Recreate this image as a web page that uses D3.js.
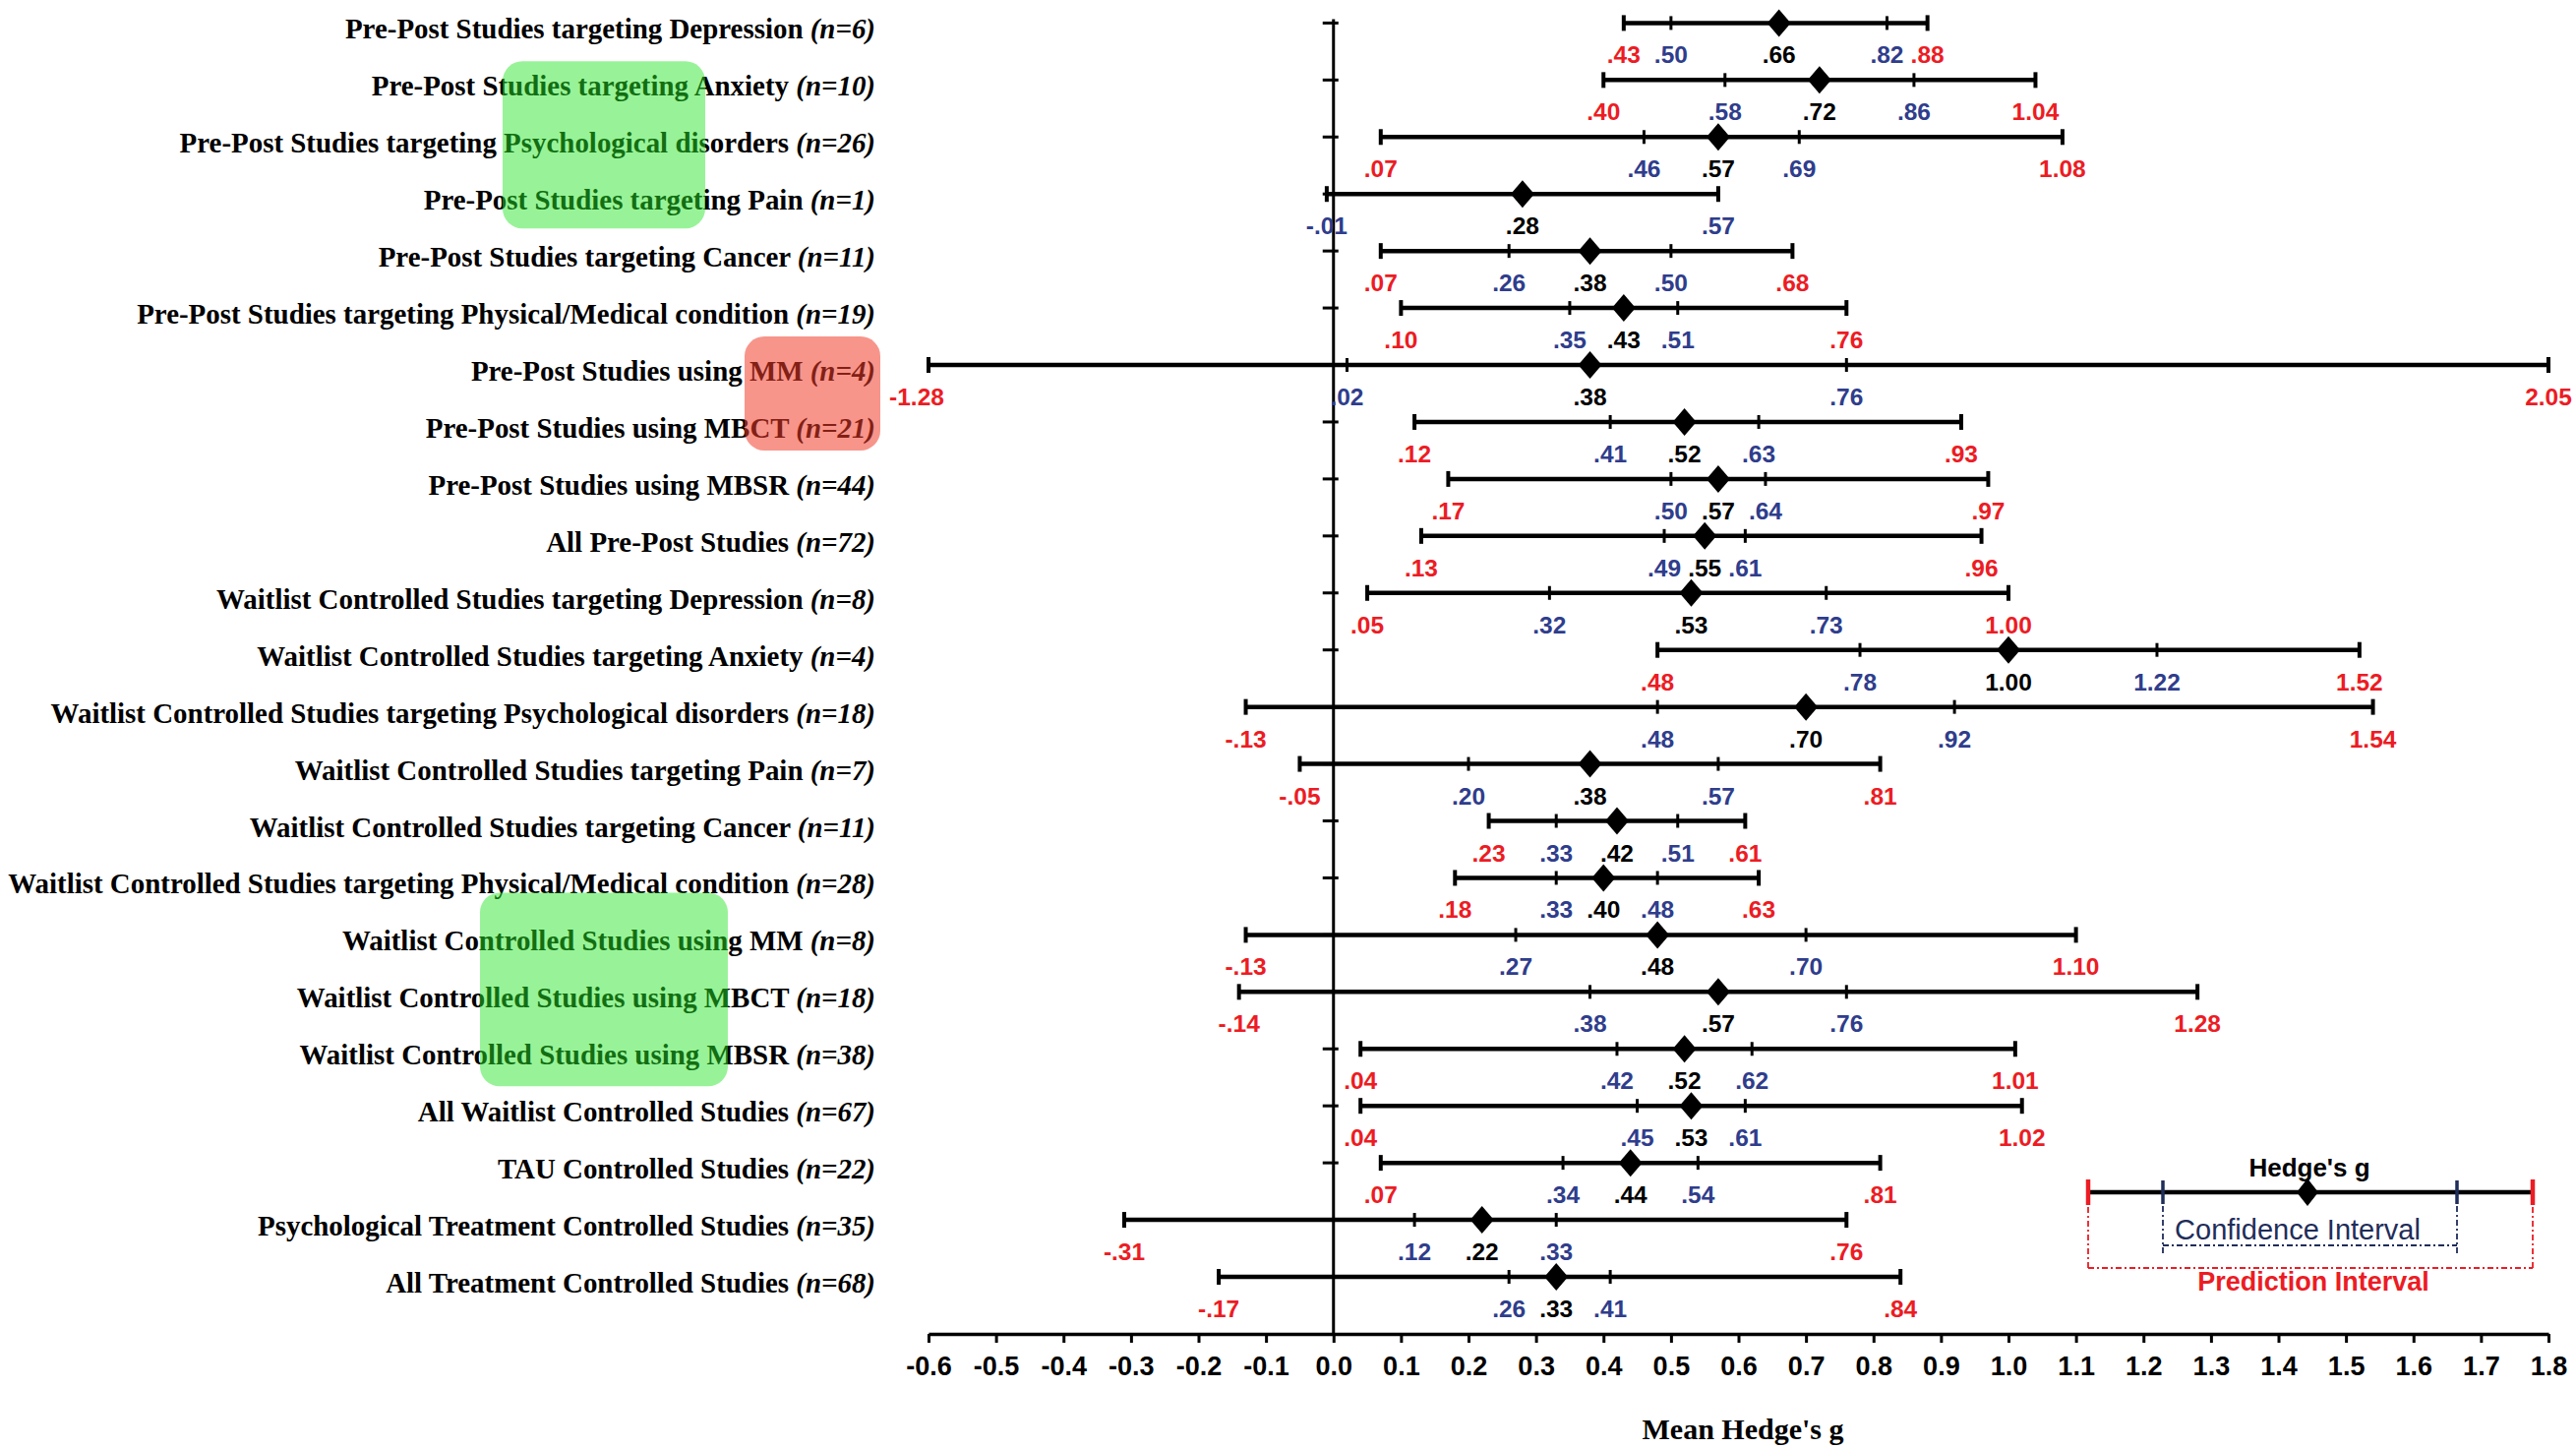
<!DOCTYPE html>
<html>
<head>
<meta charset="utf-8">
<script src="https://cdn.jsdelivr.net/npm/d3@7/dist/d3.min.js"></script>
<style>
  html, body { margin: 0; padding: 0; background: #fff; }
  svg { display: block; }
</style>
</head>
<body>
<div id="chart"></div>
<script>
// Study groups, top to bottom
const studyGroups = [
  "Pre-Post Studies targeting Depression",
  "Pre-Post Studies targeting Anxiety",
  "Pre-Post Studies targeting Psychological disorders",
  "Pre-Post Studies targeting Pain",
  "Pre-Post Studies targeting Cancer",
  "Pre-Post Studies targeting Physical/Medical condition",
  "Pre-Post Studies using MM",
  "Pre-Post Studies using MBCT",
  "Pre-Post Studies using MBSR",
  "All Pre-Post Studies",
  "Waitlist Controlled Studies targeting Depression",
  "Waitlist Controlled Studies targeting Anxiety ",
  "Waitlist Controlled Studies targeting Psychological disorders",
  "Waitlist Controlled Studies targeting Pain",
  "Waitlist Controlled Studies targeting Cancer",
  "Waitlist Controlled Studies targeting Physical/Medical condition",
  "Waitlist Controlled Studies using MM",
  "Waitlist Controlled Studies using MBCT",
  "Waitlist Controlled Studies using MBSR",
  "All Waitlist Controlled Studies",
  "TAU Controlled Studies",
  "Psychological Treatment Controlled Studies",
  "All Treatment Controlled Studies"
];
const studyCounts = [6, 10, 26, 1, 11, 19, 4, 21, 44, 72, 8, 4, 18, 7, 11, 28, 8, 18, 38, 67, 22, 35, 68];

// Mean Hedge's g with confidence and prediction intervals
const meanG  = [0.66, 0.72, 0.57, 0.28, 0.38, 0.43, 0.38, 0.52, 0.57, 0.55, 0.53, 1.00, 0.70, 0.38, 0.42, 0.40, 0.48, 0.57, 0.52, 0.53, 0.44, 0.22, 0.33];
const ciLow  = [0.50, 0.58, 0.46, -0.01, 0.26, 0.35, 0.02, 0.41, 0.50, 0.49, 0.32, 0.78, 0.48, 0.20, 0.33, 0.33, 0.27, 0.38, 0.42, 0.45, 0.34, 0.12, 0.26];
const ciHigh = [0.82, 0.86, 0.69, 0.57, 0.50, 0.51, 0.76, 0.63, 0.64, 0.61, 0.73, 1.22, 0.92, 0.57, 0.51, 0.48, 0.70, 0.76, 0.62, 0.61, 0.54, 0.33, 0.41];
const piLow  = [0.43, 0.40, 0.07, null, 0.07, 0.10, -1.28, 0.12, 0.17, 0.13, 0.05, 0.48, -0.13, -0.05, 0.23, 0.18, -0.13, -0.14, 0.04, 0.04, 0.07, -0.31, -0.17];
const piHigh = [0.88, 1.04, 1.08, null, 0.68, 0.76, 2.05, 0.93, 0.97, 0.96, 1.00, 1.52, 1.54, 0.81, 0.61, 0.63, 1.10, 1.28, 1.01, 1.02, 0.81, 0.76, 0.84];

const xTicks = [-0.6, -0.5, -0.4, -0.3, -0.2, -0.1, 0.0, 0.1, 0.2, 0.3, 0.4, 0.5, 0.6, 0.7, 0.8, 0.9, 1.0, 1.1, 1.2, 1.3, 1.4, 1.5, 1.6, 1.7, 1.8];

const W = 2619, H = 1472;
const RED = "#ec1c24", BLUE = "#2f3d8c", NAVY = "#1f2d5a";

const rows = studyGroups.map((name, i) => ({
  name: name, n: studyCounts[i], g: meanG[i],
  ciLo: ciLow[i], ciHi: ciHigh[i], piLo: piLow[i], piHi: piHigh[i]
}));

const svg = d3.select("#chart").append("svg")
  .attr("width", W).attr("height", H);
svg.append("rect").attr("width", W).attr("height", H).attr("fill", "#fff");

const x = d3.scaleLinear().domain([-0.6, 1.8]).range([944, 2591]);
const y = d3.scalePoint().domain(d3.range(rows.length)).range([23.4, 1298]);
const axisY = 1356;
const clip = v => Math.max(-0.6, Math.min(1.8, v));
const fmt = v => d3.format(".2f")(v).replace("−", "-").replace(/^(-?)0\./, "$1.");

// x axis
const xAxis = svg.append("g")
  .attr("transform", `translate(0,${axisY})`)
  .call(d3.axisBottom(x).tickValues(xTicks).tickSizeInner(9).tickSizeOuter(0).tickPadding(14)
    .tickFormat(d => d3.format(".1f")(d).replace("−", "-")));
xAxis.select(".domain").attr("stroke", "#000").attr("stroke-width", 3.5);
xAxis.selectAll(".tick line").attr("stroke", "#000").attr("stroke-width", 3);
xAxis.selectAll(".tick text")
  .attr("fill", "#000")
  .style("font-family", "'Liberation Sans', Arial, sans-serif")
  .style("font-weight", "bold")
  .style("font-size", "27px");

svg.append("text")
  .attr("x", 1772).attr("y", 1463)
  .attr("text-anchor", "middle")
  .style("font-family", "'Liberation Serif', 'Times New Roman', serif")
  .style("font-weight", "bold")
  .style("font-size", "30px")
  .text("Mean Hedge's g");

// vertical zero line with row ticks
svg.append("line")
  .attr("x1", x(0)).attr("x2", x(0))
  .attr("y1", y(0) - 4).attr("y2", axisY)
  .attr("stroke", "#000").attr("stroke-width", 3);
svg.append("g").selectAll("line").data(rows).join("line")
  .attr("x1", x(0) - 11).attr("x2", x(0) + 5)
  .attr("y1", (d, i) => y(i)).attr("y2", (d, i) => y(i))
  .attr("stroke", "#000").attr("stroke-width", 3);

// row labels
const labelG = svg.append("g");
const labels = labelG.selectAll("text").data(rows).join("text")
  .attr("text-anchor", "end")
  .attr("fill", "#000")
  .style("font-family", "'Liberation Serif', 'Times New Roman', serif")
  .style("font-weight", "bold")
  .style("font-size", "29px");
labels.append("tspan").text(d => d.name + " ");
labels.append("tspan").style("font-style", "italic").text(d => `(n=${d.n})`);
let maxW = 0;
labels.each(function () { maxW = Math.max(maxW, this.getBBox().width); });
const sx = 882 / maxW;
labels.attr("transform", (d, i) => `translate(890,${y(i) + 16}) scale(${sx},1)`);

// interval rows
const rowG = svg.append("g").selectAll("g").data(rows).join("g")
  .attr("transform", (d, i) => `translate(0,${y(i)})`);

rowG.append("line")
  .attr("x1", d => x(clip(d.piLo != null ? d.piLo : d.ciLo)))
  .attr("x2", d => x(clip(d.piHi != null ? d.piHi : d.ciHi)))
  .attr("stroke", "#000").attr("stroke-width", 4.5);

// end caps and CI ticks
rowG.each(function (d) {
  const g = d3.select(this);
  const ends = d.piLo != null ? [d.piLo, d.piHi] : [d.ciLo, d.ciHi];
  g.selectAll(".cap").data(ends).join("line").attr("class", "cap")
    .attr("x1", v => x(clip(v))).attr("x2", v => x(clip(v)))
    .attr("y1", -8).attr("y2", 8)
    .attr("stroke", "#000").attr("stroke-width", 4);
  if (d.piLo != null) {
    g.selectAll(".ci").data([d.ciLo, d.ciHi]).join("line").attr("class", "ci")
      .attr("x1", v => x(v)).attr("x2", v => x(v))
      .attr("y1", -7).attr("y2", 7)
      .attr("stroke", "#000").attr("stroke-width", 3);
  }
});

rowG.append("path")
  .attr("d", d => `M${x(d.g)},-14 L${x(d.g) + 12},0 L${x(d.g)},14 L${x(d.g) - 12},0 Z`)
  .attr("fill", "#000");

// value labels
rowG.each(function (d) {
  const items = [];
  if (d.piLo != null) items.push({ v: d.piLo, c: RED });
  items.push({ v: d.ciLo, c: BLUE });
  items.push({ v: d.g, c: "#000" });
  items.push({ v: d.ciHi, c: BLUE });
  if (d.piHi != null) items.push({ v: d.piHi, c: RED });
  d3.select(this).selectAll(".val").data(items).join("text").attr("class", "val")
    .attr("x", e => x(clip(e.v)) + (e.v < -0.6 ? -12 : 0))
    .attr("y", 41)
    .attr("text-anchor", "middle")
    .attr("fill", e => e.c)
    .style("font-family", "'Liberation Sans', Arial, sans-serif")
    .style("font-weight", "bold")
    .style("font-size", "24.5px")
    .text(e => fmt(e.v));
});

// legend
const leg = svg.append("g");
const lg = { y: 1212, piL: 2123, ciL: 2199, mid: 2346, ciR: 2498, piR: 2575 };
leg.append("line").attr("x1", lg.piL).attr("x2", lg.piR).attr("y1", lg.y).attr("y2", lg.y)
  .attr("stroke", "#000").attr("stroke-width", 4.5);
[lg.piL, lg.piR].forEach(px => {
  leg.append("line").attr("x1", px).attr("x2", px).attr("y1", lg.y - 13).attr("y2", lg.y + 13)
    .attr("stroke", RED).attr("stroke-width", 4.5);
  leg.append("line").attr("x1", px).attr("x2", px).attr("y1", lg.y + 15).attr("y2", 1290)
    .attr("stroke", RED).attr("stroke-width", 1.8).attr("stroke-dasharray", "6,3,2,3");
});
leg.append("line").attr("x1", lg.piL).attr("x2", lg.piR).attr("y1", 1289).attr("y2", 1289)
  .attr("stroke", RED).attr("stroke-width", 1.8).attr("stroke-dasharray", "6,3,2,3");
[lg.ciL, lg.ciR].forEach(px => {
  leg.append("line").attr("x1", px).attr("x2", px).attr("y1", lg.y - 12).attr("y2", lg.y + 12)
    .attr("stroke", NAVY).attr("stroke-width", 3.5);
  leg.append("line").attr("x1", px).attr("x2", px).attr("y1", lg.y + 14).attr("y2", 1277)
    .attr("stroke", NAVY).attr("stroke-width", 1.8).attr("stroke-dasharray", "6,3,2,3");
});
leg.append("line").attr("x1", lg.ciL).attr("x2", lg.ciR).attr("y1", 1266).attr("y2", 1266)
  .attr("stroke", NAVY).attr("stroke-width", 1.8).attr("stroke-dasharray", "6,3,2,3");
leg.append("path")
  .attr("d", `M${lg.mid},${lg.y - 14} L${lg.mid + 11},${lg.y} L${lg.mid},${lg.y + 14} L${lg.mid - 11},${lg.y} Z`)
  .attr("fill", "#000");
const legText = (t, cx, by, col, wt, fs) => leg.append("text")
  .attr("x", cx).attr("y", by).attr("text-anchor", "middle").attr("fill", col)
  .style("font-family", "'Liberation Sans', Arial, sans-serif")
  .style("font-weight", wt).style("font-size", fs).text(t);
legText("Hedge's g", 2348, 1196, "#000", "bold", "26px");
legText("Confidence Interval", 2336, 1260, NAVY, "normal", "29px");
legText("Prediction Interval", 2352, 1312, RED, "bold", "27px");

// highlight boxes over some labels
const highlights = [
  { x0: 511, x1: 717, r0: 1, r1: 3, padTop: 19, padBot: 35, fill: "rgb(40,230,40)", op: 0.48 },
  { x0: 757, x1: 895, r0: 6, r1: 7, padTop: 29, padBot: 29, fill: "rgb(240,60,40)", op: 0.54 },
  { x0: 488, x1: 740, r0: 16, r1: 18, padTop: 43, padBot: 38, fill: "rgb(40,230,40)", op: 0.48 }
];
svg.append("g").selectAll("rect").data(highlights).join("rect")
  .attr("x", d => d.x0).attr("width", d => d.x1 - d.x0)
  .attr("y", d => y(d.r0) - d.padTop)
  .attr("height", d => y(d.r1) + d.padBot - (y(d.r0) - d.padTop))
  .attr("rx", 20).attr("ry", 20)
  .attr("fill", d => d.fill).attr("fill-opacity", d => d.op);
</script>
</body>
</html>
